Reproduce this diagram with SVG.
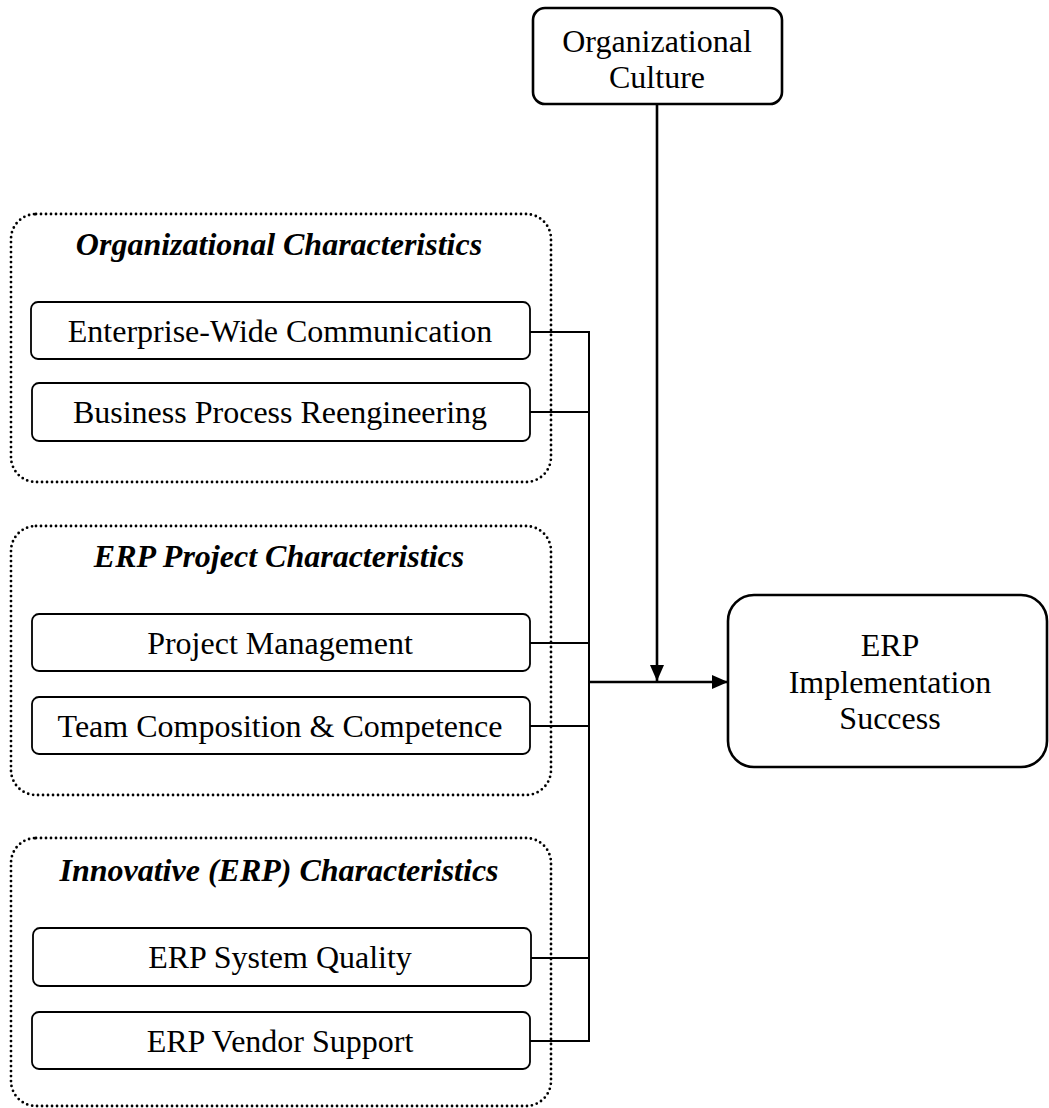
<svg xmlns="http://www.w3.org/2000/svg" width="1049" height="1108" viewBox="0 0 1049 1108">
<defs>
<style>
.grp{fill:none;stroke:#000;stroke-width:2.8;stroke-dasharray:0 5;stroke-linecap:round}
.box{fill:#fff;stroke:#000;stroke-width:1.8}
.big{fill:#fff;stroke:#000;stroke-width:2.6}
.t{font-family:"Liberation Serif","Times New Roman",serif;font-size:32px;fill:#000;text-anchor:middle}
.h{font-family:"Liberation Serif","Times New Roman",serif;font-size:32px;font-weight:bold;font-style:italic;fill:#000;text-anchor:middle}
.ln{fill:none;stroke:#000;stroke-width:2}
.ar{fill:none;stroke:#000;stroke-width:2.6}
</style>
<marker id="arr" markerWidth="16" markerHeight="14" refX="16" refY="7" orient="auto" markerUnits="userSpaceOnUse">
<path d="M0,0 L16,7 L0,14 Z" fill="#000"/>
</marker>
</defs>
<rect width="1049" height="1108" fill="#fff"/>

<g id="group-org">
<rect class="grp" x="11" y="214" width="540" height="268" rx="25"/>
<text class="h" x="279" y="255">Organizational Characteristics</text>
</g>
<g id="group-project">
<rect class="grp" x="11" y="526" width="540" height="269" rx="25"/>
<text class="h" x="279" y="567">ERP Project Characteristics</text>
</g>
<g id="group-innov">
<rect class="grp" x="11" y="838" width="540" height="268" rx="25"/>
<text class="h" x="279" y="881">Innovative (ERP) Characteristics</text>
</g>

<g id="connectors">
<line class="ln" x1="530" y1="332" x2="589" y2="332"/>
<line class="ln" x1="530" y1="412" x2="589" y2="412"/>
<line class="ln" x1="530" y1="643" x2="589" y2="643"/>
<line class="ln" x1="530" y1="726" x2="589" y2="726"/>
<line class="ln" x1="530" y1="958" x2="589" y2="958"/>
<line class="ln" x1="530" y1="1041" x2="589" y2="1041"/>
<line class="ln" x1="589" y1="331" x2="589" y2="1042"/>
<line class="ar" x1="588" y1="682" x2="728" y2="682" marker-end="url(#arr)"/>
<line class="ar" x1="657" y1="104" x2="657" y2="681" marker-end="url(#arr)"/>
</g>

<g id="node-ewc">
<rect class="box" x="31" y="302" width="499" height="57" rx="7"/>
<text class="t" x="280" y="342">Enterprise-Wide Communication</text>
</g>
<g id="node-bpr">
<rect class="box" x="32" y="383" width="498" height="58" rx="7"/>
<text class="t" x="280" y="423">Business Process Reengineering</text>
</g>
<g id="node-pm">
<rect class="box" x="32" y="614" width="498" height="57" rx="7"/>
<text class="t" x="280" y="654">Project Management</text>
</g>
<g id="node-team">
<rect class="box" x="32" y="697" width="498" height="57" rx="7"/>
<text class="t" x="280" y="737">Team Composition &amp; Competence</text>
</g>
<g id="node-sq">
<rect class="box" x="33" y="928" width="498" height="58" rx="7"/>
<text class="t" x="280" y="968">ERP System Quality</text>
</g>
<g id="node-vs">
<rect class="box" x="32" y="1012" width="498" height="57" rx="7"/>
<text class="t" x="280" y="1052">ERP Vendor Support</text>
</g>

<g id="node-culture">
<rect class="big" x="533" y="8" width="249" height="96" rx="12"/>
<text class="t" x="657" y="52">Organizational</text>
<text class="t" x="657" y="88">Culture</text>
</g>
<g id="node-success">
<rect class="big" x="728" y="595" width="319" height="172" rx="26"/>
<text class="t" x="890" y="656">ERP</text>
<text class="t" x="890" y="693">Implementation</text>
<text class="t" x="890" y="729">Success</text>
</g>
</svg>
